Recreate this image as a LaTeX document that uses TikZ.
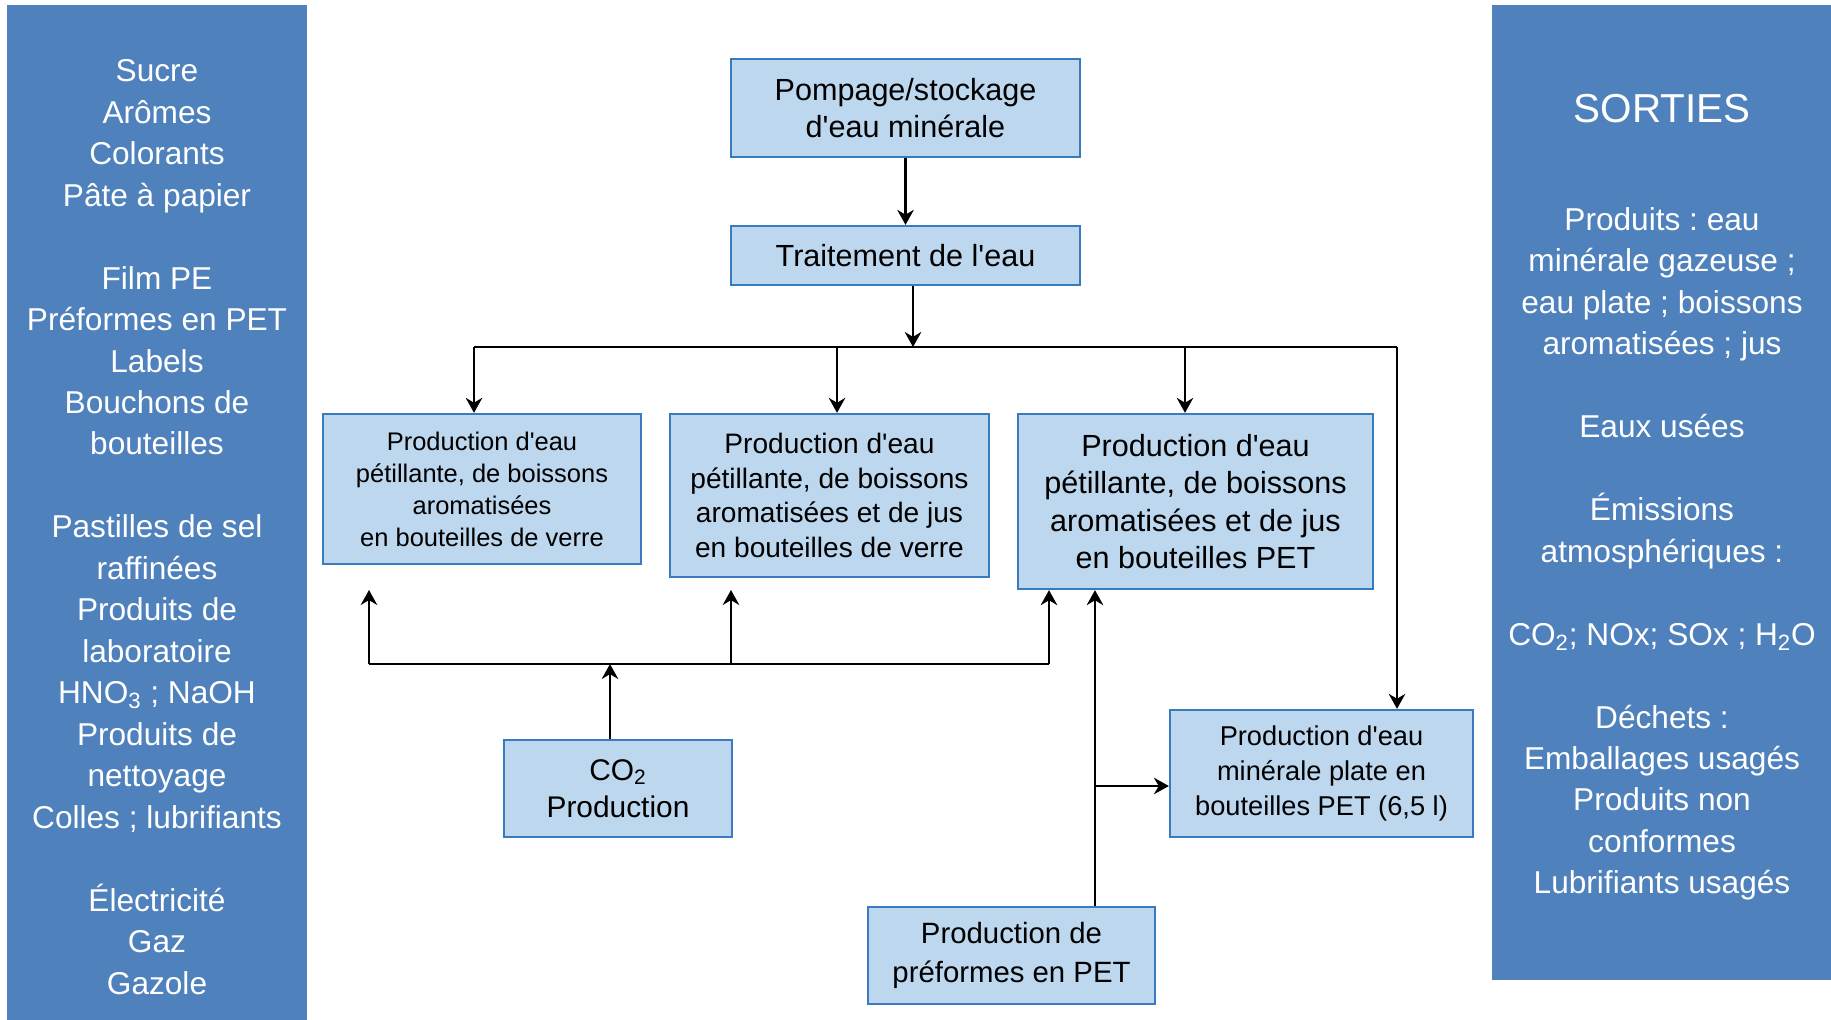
\documentclass[tikz,border=0pt]{standalone}
\usepackage{fontspec}
\setmainfont{Liberation Sans}[Ligatures=TeXOff]
\usepackage{tikz}
\usetikzlibrary{positioning,arrows.meta,calc}
\definecolor{panelblue}{HTML}{4F81BD}
\definecolor{boxfill}{HTML}{BDD7EE}
\definecolor{boxline}{HTML}{3A7BBF}
\newcommand{\fs}[2]{\fontsize{#1}{#2}\selectfont}
\frenchspacing

\begin{document}
\begin{tikzpicture}[x=0.02cm,y=-0.02cm,
    panel/.style={fill=panelblue,draw=none,inner sep=0pt,anchor=north west},
    paneltext/.style={text=white,align=center,font=\fs{18}{23.6}},
    proc/.style={rectangle,fill=boxfill,draw=boxline,line width=1.3pt,align=center,inner sep=2pt},
    flow/.style={line width=1.4pt,black},
    arr/.style={flow,-{Stealth[length=3mm,width=3.3mm]}}]
  \useasboundingbox (0,0) rectangle (1831,1020);

  % inputs and outputs
  \node[panel,minimum width=6cm,minimum height=20.3cm] (inputs) at (7,5) {};
  \node[paneltext] (intext) at (157,527) {Sucre\\Arômes\\Colorants\\Pâte à papier\\[23.6pt]
    Film PE\\Préformes en PET\\Labels\\Bouchons de\\bouteilles\\[23.6pt]
    Pastilles de sel\\raffinées\\Produits de\\laboratoire\\HNO\textsubscript{3} ; NaOH\\Produits de\\nettoyage\\Colles ; lubrifiants\\[23.6pt]
    Électricité\\Gaz\\Gazole};
  \node[panel,minimum width=6.78cm,minimum height=19.5cm] (outputs) at (1492,5) {};
  \node[paneltext,font=\fs{23}{28}] (sorties) at (1662,109) {SORTIES};
  \node[paneltext] (outtext) at (1662,554) {Produits : eau\\minérale gazeuse ;\\eau plate ; boissons\\aromatisées ; jus\\[23.6pt]
    Eaux usées\\[23.6pt]
    Émissions\\atmosphériques :\\[23.6pt]
    CO\textsubscript{2}; NOx; SOx ; H\textsubscript{2}O\\[23.6pt]
    Déchets :\\Emballages usagés\\Produits non\\conformes\\Lubrifiants usagés};

  % process boxes
  \node[proc,minimum width=6.98cm,minimum height=1.96cm,font=\fs{17.4}{21}] (pompage) at (905.5,108) {Pompage/stockage\\d'eau minérale};
  \node[proc,minimum width=6.98cm,minimum height=1.18cm,font=\fs{17.4}{21}] (traitement) at (905.5,255.5) {Traitement de l'eau};
  \node[proc,minimum width=6.36cm,minimum height=3cm,font=\fs{14.5}{18.2}] (verre1) at (482,489) {Production d'eau\\pétillante, de boissons\\aromatisées\\en bouteilles de verre};
  \node[proc,minimum width=6.38cm,minimum height=3.26cm,font=\fs{16}{19.7}] (verre2) at (829.5,495.5) {Production d'eau\\pétillante, de boissons\\aromatisées et de jus\\en bouteilles de verre};
  \node[proc,minimum width=7.1cm,minimum height=3.5cm,font=\fs{17.4}{21.4}] (pet) at (1195.5,501.5) {Production d'eau\\pétillante, de boissons\\aromatisées et de jus\\en bouteilles PET};
  \node[proc,minimum width=6.06cm,minimum height=2.54cm,font=\fs{15.5}{20}] (plate) at (1321.5,773.5) {Production d'eau\\minérale plate en\\bouteilles PET (6,5 l)};
  \node[proc,minimum width=4.56cm,minimum height=1.94cm,font=\fs{17}{21}] (co2) at (618,788.5) {CO\textsubscript{2}\\Production};
  \node[proc,minimum width=5.74cm,minimum height=1.94cm,font=\fs{16.7}{22}] (preformes) at (1011.5,955.5) {Production de\\préformes en PET};

  % water distribution
  \coordinate (j0) at (913,347);
  \coordinate (d1) at (474,347);
  \coordinate (d2) at (837,347);
  \coordinate (d3) at (1185,347);
  \coordinate (d4) at (1397,347);
  \draw[arr] (pompage) -- (traitement);
  \draw[arr] (traitement.south -| j0) -- (j0);
  \draw[flow] (d1) -- (d4);
  \foreach \i/\b in {1/verre1,2/verre2,3/pet,4/plate}
    \draw[arr] (d\i) -- (d\i |- \b.north);

  % CO2 distribution
  \coordinate (c0) at (610,664);
  \coordinate (e1) at (369,664);
  \coordinate (e2) at (731,664);
  \coordinate (e3) at (1049,664);
  \draw[flow] (e1) -- (e3);
  \draw[arr] (co2.north -| c0) -- (c0);
  \draw[arr] (e1) -- ++(0,-74);
  \draw[arr] (e2) -- ++(0,-74);
  \draw[arr] (e3) -- (e3 |- pet.south);

  % preforms
  \coordinate (p0) at (1095,786);
  \draw[arr] (preformes.north -| p0) -- (p0 |- pet.south);
  \draw[arr] (p0) -- (plate.west |- p0);
\end{tikzpicture}
\end{document}
